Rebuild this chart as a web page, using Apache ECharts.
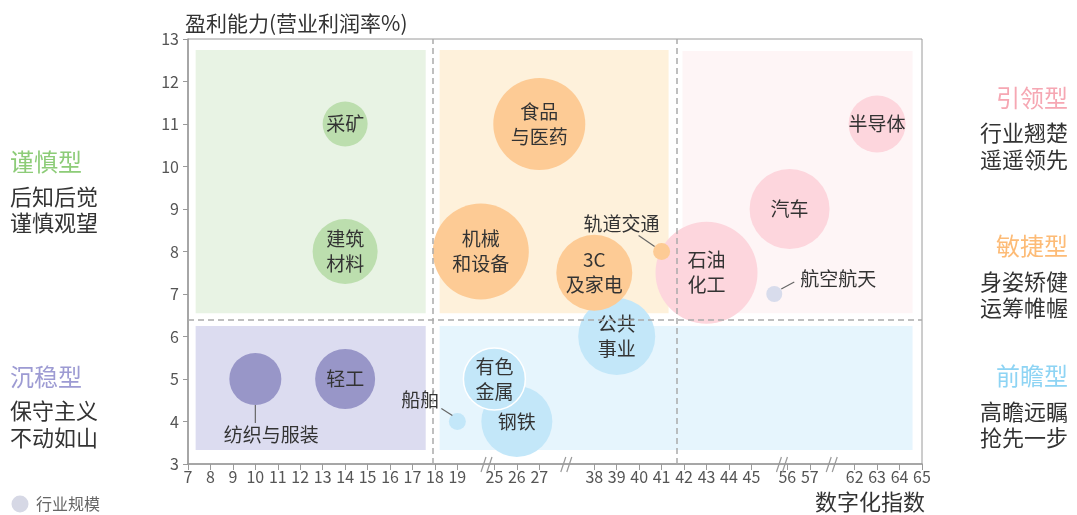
<!DOCTYPE html>
<html>
<head>
<meta charset="utf-8">
<title>数字化指数与盈利能力</title>
<script src="https://cdn.jsdelivr.net/npm/echarts@6.0.0/dist/echarts.min.js"></script>
<style>
  html, body { margin: 0; padding: 0; background: #fff; }
  #main { width: 1077px; height: 515px; }
</style>
</head>
<body>
<div id="main"></div>
<script>
// data, in drawing order (later ones sit on top)
const industries = ['采矿', '建筑\n材料', '纺织与服装', '轻工', '机械\n和设备', '食品\n与医药', '公共\n事业', '3C\n及家电',
  '钢铁', '有色\n金属', '船舶', '石油\n化工', '轨道交通', '汽车', '航空航天', '半导体'];
const digitalIndex = [14, 14, 10, 14, 22.8, 27, 39, 38, 26, 25, 19, 43, 41, 56.1, 52, 63];
const profitRate = [11, 8, 5, 5, 8, 11, 6, 7.5, 4, 5, 4, 7.5, 8, 9, 7, 11];
const industryScale = [45, 65, 52, 60, 96, 92, 77, 76, 71, 62, 17, 102, 17, 80, 16, 57];
const industryType = ['谨慎', '谨慎', '沉稳', '沉稳', '敏捷', '敏捷', '前瞻', '敏捷', '前瞻', '前瞻', '前瞻', '引领', '敏捷', '引领', '其他', '引领'];

// tick labels of the broken x axis
const xTickValues = [7, 8, 9, 10, 11, 12, 13, 14, 15, 16, 17, 18, 19, 25, 26, 27,
  38, 39, 40, 41, 42, 43, 44, 45, 56, 57, 62, 63, 64, 65];
const xBreakMarks = [23.8, 32.5, 54.5, 59.5];

// layout
const xGapWidths = [1.65, 2.45, 1.6, 2.0];
const FONT = '"Noto Sans CJK SC", "Noto Sans", sans-serif';

const bubbleColor = {
  '谨慎': '#bcdeae', '沉稳': '#9896c8', '敏捷': '#fdcb95',
  '前瞻': '#c3e7f9', '引领': '#fdd6dd', '其他': '#d8dcec'
};

// label + leader line offsets (px from the point centre)
const callouts = {
  '纺织与服装': { line: [0, 26, 0, 44], text: [16, 56] },
  '船舶': { line: [-5, -6, -16, -13], text: [-37, -22] },
  '轨道交通': { line: [-7, -5, -23, -16], text: [-40, -28] },
  '航空航天': { line: [7, -5, 20, -12], text: [64, -15] }
};

/**
 * map an index value onto the compressed x axis
 */
const segments = [];
xTickValues.forEach(v => {
  const last = segments[segments.length - 1];
  if (last && v === last[1] + 1) last[1] = v;
  else segments.push([v, v]);
});
const segStart = [];
let off = 0;
segments.forEach((s, i) => {
  segStart.push(off);
  off += s[1] - s[0];
  if (i < xGapWidths.length) off += xGapWidths[i];
});
const xMax = off;

function toPos(v) {
  for (let i = 0; i < segments.length; i++) {
    const [a, b] = segments[i];
    if (v <= b || i === segments.length - 1) {
      if (v >= a || i === 0) return segStart[i] + (v - a);
      const pa = segments[i - 1][1];
      const ps = segStart[i - 1] + (pa - segments[i - 1][0]);
      return ps + (v - pa) / (a - pa) * xGapWidths[i - 1];
    }
  }
}

const tickPos = xTickValues.map(toPos);

const bubbleData = industries.map((name, i) => ({
  name: name,
  value: [toPos(digitalIndex[i]), profitRate[i], industryScale[i]],
  itemStyle: name === '有色\n金属'
    ? { color: bubbleColor[industryType[i]], borderColor: '#fff', borderWidth: 1.5 }
    : { color: bubbleColor[industryType[i]] },
  label: { show: !callouts[name] }
}));

const calloutData = industries
  .map((name, i) => ({ name: name, value: [toPos(digitalIndex[i]), profitRate[i]] }))
  .filter(d => callouts[d.name]);

const sideText = (x, y, text, color, size, align) => ({
  type: 'text', x: x, y: y,
  style: { text: text, fill: color, font: size + 'px ' + FONT, align: align, verticalAlign: 'middle' }
});

const chart = echarts.init(document.getElementById('main'));

chart.setOption({
  animation: false,
  textStyle: { fontFamily: FONT },
  grid: { left: 188, right: 155, top: 39, bottom: 51, show: true, borderColor: '#9a9a9a', borderWidth: 1 },
  xAxis: {
    type: 'value', min: 0, max: xMax,
    axisLine: { lineStyle: { color: '#9a9a9a', width: 1.5 } },
    axisTick: { customValues: tickPos, length: 6, lineStyle: { color: '#9a9a9a' } },
    axisLabel: {
      customValues: tickPos, margin: 5, fontSize: 16, color: '#555',
      formatter: val => {
        const i = tickPos.findIndex(p => Math.abs(p - val) < 1e-6);
        return i >= 0 ? String(xTickValues[i]) : '';
      }
    },
    splitLine: { show: false }
  },
  yAxis: {
    type: 'value', min: 3, max: 13, interval: 1,
    axisLine: { show: true, lineStyle: { color: '#9a9a9a', width: 1.5 } },
    axisTick: { show: true, length: 5, lineStyle: { color: '#9a9a9a' } },
    axisLabel: { fontSize: 16, color: '#555', margin: 9 },
    splitLine: { show: false }
  },
  graphic: [
    sideText(185, 23, '盈利能力(营业利润率%)', '#333', 21, 'left'),
    sideText(925, 502, '数字化指数', '#333', 22, 'right'),
    sideText(10, 162, '谨慎型', '#8dcc78', 24, 'left'),
    sideText(10, 197, '后知后觉', '#333', 22, 'left'),
    sideText(10, 223, '谨慎观望', '#333', 22, 'left'),
    sideText(10, 377, '沉稳型', '#9d9bd3', 24, 'left'),
    sideText(10, 411, '保守主义', '#333', 22, 'left'),
    sideText(10, 438, '不动如山', '#333', 22, 'left'),
    sideText(1068, 98, '引领型', '#f6a7b3', 24, 'right'),
    sideText(1068, 133, '行业翘楚', '#333', 22, 'right'),
    sideText(1068, 160, '遥遥领先', '#333', 22, 'right'),
    sideText(1068, 246, '敏捷型', '#fdbb76', 24, 'right'),
    sideText(1068, 282, '身姿矫健', '#333', 22, 'right'),
    sideText(1068, 308, '运筹帷幄', '#333', 22, 'right'),
    sideText(1068, 376, '前瞻型', '#8ed4f4', 24, 'right'),
    sideText(1068, 412, '高瞻远瞩', '#333', 22, 'right'),
    sideText(1068, 438, '抢先一步', '#333', 22, 'right'),
    // legend
    { type: 'circle', shape: { cx: 20, cy: 504, r: 8.5 }, style: { fill: '#d6d8e5' } },
    sideText(36, 504, '行业规模', '#666', 16, 'left')
  ],
  series: [
    {
      // quadrant backgrounds and divider lines
      type: 'scatter', data: [], z: 0, silent: true,
      markArea: {
        silent: true,
        data: [
          [{ xAxis: 0.34, yAxis: 12.74, itemStyle: { color: '#e8f3e4' } }, { xAxis: 10.59, yAxis: 6.55 }],
          [{ xAxis: 11.21, yAxis: 12.74, itemStyle: { color: '#fef1db' } }, { xAxis: 21.41, yAxis: 6.55 }],
          [{ xAxis: 22.03, yAxis: 12.72, itemStyle: { color: '#fef5f6' } }, { xAxis: 32.28, yAxis: 6.55 }],
          [{ xAxis: 0.34, yAxis: 6.25, itemStyle: { color: '#dcdcf0' } }, { xAxis: 10.59, yAxis: 3.33 }],
          [{ xAxis: 11.21, yAxis: 6.25, itemStyle: { color: '#e6f5fd' } }, { xAxis: 32.28, yAxis: 3.33 }]
        ]
      },
      markLine: {
        silent: true, symbol: 'none',
        label: { show: false },
        lineStyle: { color: '#aaa', type: [6, 4], width: 1.5 },
        data: [{ xAxis: 10.9 }, { xAxis: 21.77 }, { yAxis: 6.39 }]
      }
    },
    {
      name: '行业规模',
      type: 'scatter', z: 3,
      symbolSize: val => val[2],
      data: bubbleData,
      itemStyle: { opacity: 1 },
      label: {
        position: 'inside', fontSize: 19, lineHeight: 25, color: '#333', fontFamily: FONT,
        formatter: p => p.name
      },
      emphasis: { disabled: true }
    },
    {
      // leader lines for the small / outside labels
      type: 'custom', z: 4, silent: true,
      data: calloutData,
      renderItem: (params, api) => {
        const p = api.coord([api.value(0), api.value(1)]);
        const d = calloutData[params.dataIndex];
        const c = callouts[d.name];
        return {
          type: 'group',
          children: [
            {
              type: 'line',
              shape: { x1: p[0] + c.line[0], y1: p[1] + c.line[1], x2: p[0] + c.line[2], y2: p[1] + c.line[3] },
              style: { stroke: '#666', lineWidth: 1.2 }
            },
            {
              type: 'text',
              x: p[0] + c.text[0], y: p[1] + c.text[1],
              style: { text: d.name, fill: '#333', font: '19px ' + FONT, align: 'center', verticalAlign: 'middle' }
            }
          ]
        };
      }
    },
    {
      // "//" marks where the x axis is broken
      type: 'custom', z: 5, silent: true,
      data: xBreakMarks.map(v => [toPos(v), 3]),
      renderItem: (params, api) => {
        const p = api.coord([api.value(0), api.value(1)]);
        const mark = dx => ({
          type: 'line',
          shape: { x1: p[0] + dx - 3, y1: p[1] + 8, x2: p[0] + dx + 2, y2: p[1] - 7 },
          style: { stroke: '#999', lineWidth: 1.2 }
        });
        return { type: 'group', children: [mark(-3), mark(3)] };
      }
    }
  ]
});
</script>
</body>
</html>
